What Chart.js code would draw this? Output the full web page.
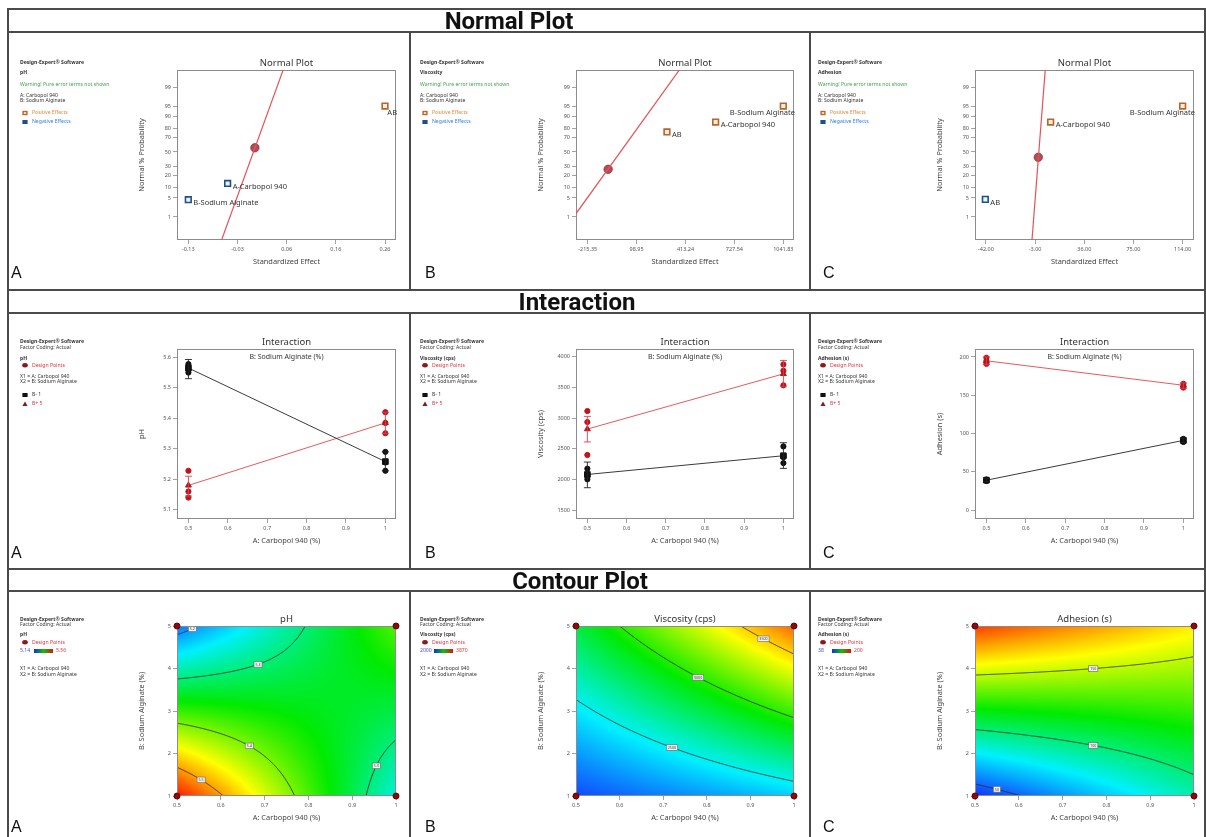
<!DOCTYPE html>
<html>
<head>
<meta charset="utf-8">
<script src="https://cdn.jsdelivr.net/npm/chart.js@4.4.0/dist/chart.umd.min.js"></script>
<style>
  body { margin: 0; background: #fff; }
  #root { position: relative; width: 1206px; height: 837px; overflow: hidden; background: #fff; }
  .cell { position: absolute; }
  .rule { position: absolute; background: #4a4a4a; z-index: 2; }
  .band { position: absolute; z-index: 3; font: 700 24px Roboto, "DejaVu Sans", sans-serif; color: #111;
          transform: translate(-50%, -50%); line-height: 1; white-space: nowrap; }
</style>
</head>
<body>
<div id="root"></div>
<script>
// ---------- data ----------
const carbopolLevels = [0.5, 1];   // A: Carbopol 940 (%)
const alginateLevels = [1, 5];     // B: Sodium Alginate (%)

// normal plot of standardized effects
const effectTerms = ['A-Carbopol 940', 'B-Sodium Alginate', 'AB'];
const phEffects = [-0.052, -0.13, 0.26];
const phEffectProb = [13, 4.4, 95];
const viscEffects = [607, 1041.83, 294];
const viscEffectProb = [85.8, 95, 76.3];
const adhEffects = [9.3, 114, -42.5];
const adhEffectProb = [85.8, 95, 4.5];
const phErrorPoint = [0.002, 56];
const viscErrorPoint = [-84, 26.8];
const adhErrorPoint = [-0.5, 42.5];
const phNormalLine = [[-0.0668, 0.05], [0.0611, 99.9]];
const viscNormalLine = [[-292.5, 1.32], [393.5, 99.9]];
const adhNormalLine = [[-5.74, 0.05], [5.27, 99.9]];
const probTicks = [1, 5, 10, 20, 30, 50, 70, 80, 90, 95, 99];
const phEffectTicks = [-0.13, -0.0325, 0.065, 0.1625, 0.26];
const phEffectLabels = ['-0.13', '-0.03', '0.06', '0.16', '0.26'];
const viscEffectTicks = [-215.35, 98.95, 413.24, 727.54, 1041.83];
const viscEffectLabels = ['-215.35', '98.95', '413.24', '727.54', '1041.83'];
const adhEffectTicks = [-42, -3, 36, 75, 114];
const adhEffectLabels = ['-42.00', '-3.00', '36.00', '75.00', '114.00'];

// interaction (means at B- = 1 and B+ = 5, per carbopol level)
const phMeansLow = [5.565, 5.258];
const phMeansHigh = [5.18, 5.385];
const phDesignLow = [[5.578, 5.56, 5.55], [5.29, 5.255, 5.228]];
const phDesignHigh = [[5.228, 5.16, 5.14], [5.42, 5.385, 5.351]];
const phBarsLow = [[5.53, 5.593], [5.228, 5.29]];
const phBarsHigh = [[5.145, 5.21], [5.35, 5.42]];

const viscMeansLow = [2080, 2385];
const viscMeansHigh = [2820, 3720];
const viscDesignLow = [[2174, 2070, 2050, 2000], [2537, 2380, 2360, 2266]];
const viscDesignHigh = [[3114, 2935, 2398], [3874, 3771, 3533]];
const viscBarsLow = [[1864, 2282], [2179, 2597]];
const viscBarsHigh = [[2610, 3027], [3510, 3939]];

const adhMeansLow = [39, 91];
const adhMeansHigh = [195, 163];
const adhDesignLow = [[40, 38], [93, 90, 89]];
const adhDesignHigh = [[199, 195, 191], [165, 162, 160]];
const adhBarsLow = [[37, 41], [88, 94]];
const adhBarsHigh = [[190, 200], [159, 166]];

const carbopolTicks = [0.5, 0.6, 0.7, 0.8, 0.9, 1];
const alginateTicks = [1, 2, 3, 4, 5];
const phTicks = [5.1, 5.2, 5.3, 5.4, 5.5, 5.6];
const viscTicks = [1500, 2000, 2500, 3000, 3500, 4000];
const adhTicks = [0, 50, 100, 150, 200];

// contour plots
const phRange = [5.14, 5.56];
const viscRange = [2000, 3870];
const adhRange = [38, 200];
const phLevels = [5.2, 5.3, 5.4, 5.5];
const viscLevels = [2500, 3000, 3500];
const adhLevels = [50, 100, 150];
const phLabelAt = [[5.2, 0.535], [5.3, 0.685], [5.3, 0.955], [5.4, 0.665], [5.5, 0.555]];
const viscLabelAt = [[2500, 0.72], [3000, 0.78], [3500, 0.93]];
const adhLabelAt = [[50, 0.55], [100, 0.77], [150, 0.77]];

// ---------- layout ----------
const FONT = '"Noto Sans", "Open Sans", sans-serif';
const COLS = [[8, 410], [410, 810], [810, 1205]];
const ROWS = [[32, 290], [313, 569], [591, 837]];
const AREA_X = [[177, 396], [576, 794], [975, 1194]];
const AREA_Y = [[70, 240], [349, 519], [626, 796]];
const LETTER_X = [3, 15, 13];
const LETTER_Y = [246, 245, 241];
const root = document.getElementById('root');

function probit(p) {
  const a = [-39.69683028665376, 220.9460984245205, -275.9285104469687, 138.357751867269, -30.66479806614716, 2.506628277459239];
  const b = [-54.47609879822406, 161.5858368580409, -155.6989798598866, 66.80131188771972, -13.28068155288572];
  const c = [-0.007784894002430293, -0.3223964580411365, -2.400758277161838, -2.549732539343734, 4.374664141464968, 2.938163982698783];
  const d = [0.007784695709041462, 0.3224671290700398, 2.445134137142996, 3.754408661907416];
  const tail = q => (((((c[0] * q + c[1]) * q + c[2]) * q + c[3]) * q + c[4]) * q + c[5]) / ((((d[0] * q + d[1]) * q + d[2]) * q + d[3]) * q + 1);
  if (p < 0.02425) return tail(Math.sqrt(-2 * Math.log(p)));
  if (p > 1 - 0.02425) return -tail(Math.sqrt(-2 * Math.log(1 - p)));
  const q = p - 0.5, r = q * q;
  return (((((a[0] * r + a[1]) * r + a[2]) * r + a[3]) * r + a[4]) * r + a[5]) * q /
         (((((b[0] * r + b[1]) * r + b[2]) * r + b[3]) * r + b[4]) * r + 1);
}
const z = p => probit(p / 100);

function axis(o) {
  return {
    type: 'linear', min: o.min, max: o.max,
    afterBuildTicks: s => { s.ticks = o.ticks.map(v => ({ value: v })); },
    afterFit: s => { if (s.isHorizontal()) s.height = 26; else s.width = 40; },
    ticks: {
      autoSkip: false, maxRotation: 0, padding: 2, color: '#555',
      font: { size: 5.5, family: FONT },
      callback: (v, i) => o.labels ? o.labels[i] : String(o.ticks[i])
    },
    grid: { drawOnChartArea: false, tickLength: 4, color: '#8a8a8a', lineWidth: 0.8 },
    border: { display: false },
    title: { display: true, text: o.title, color: '#444', font: { size: 7.4, family: FONT }, padding: 0 }
  };
}

// colour map used by the contour surfaces
const cmap = [[0, [20, 40, 255]], [0.25, [0, 240, 255]], [0.5, [0, 235, 0]], [0.75, [255, 255, 0]], [1, [255, 30, 0]]];
function colorAt(t) {
  t = Math.max(0, Math.min(1, t));
  for (let i = 1; i < cmap.length; i++) {
    if (t <= cmap[i][0]) {
      const [t0, c0] = cmap[i - 1], [t1, c1] = cmap[i];
      const f = (t - t0) / (t1 - t0);
      return c0.map((v, k) => Math.round(v + (c1[k] - v) * f));
    }
  }
  return cmap[cmap.length - 1][1];
}

// 2FI model through the four factorial means
function surface(c, u, v) {
  return c[0] * (1 - u) * (1 - v) + c[1] * u * (1 - v) + c[2] * (1 - u) * v + c[3] * u * v;
}
function solveV(c, u, L) {
  const y0 = c[0] + (c[1] - c[0]) * u, y1 = c[2] + (c[3] - c[2]) * u;
  if (Math.abs(y1 - y0) < 1e-9) return null;
  return (L - y0) / (y1 - y0);
}

function drawSurface(chart, s) {
  const { ctx, chartArea: a, scales: { x, y } } = chart;
  const dpr = chart.currentDevicePixelRatio;
  const [A0, A1] = carbopolLevels, [B0, B1] = alginateLevels;
  const x0 = Math.round(a.left * dpr), y0 = Math.round(a.top * dpr);
  const w = Math.round(a.right * dpr) - x0, h = Math.round(a.bottom * dpr) - y0;
  const img = ctx.createImageData(w, h);
  for (let j = 0; j < h; j++) {
    const v = (y.getValueForPixel((y0 + j + 0.5) / dpr) - B0) / (B1 - B0);
    for (let i = 0; i < w; i++) {
      const u = (x.getValueForPixel((x0 + i + 0.5) / dpr) - A0) / (A1 - A0);
      const col = colorAt((surface(s.corners, u, v) - s.range[0]) / (s.range[1] - s.range[0]));
      const k = (j * w + i) * 4;
      img.data[k] = col[0]; img.data[k + 1] = col[1]; img.data[k + 2] = col[2]; img.data[k + 3] = 255;
    }
  }
  ctx.putImageData(img, x0, y0);

  ctx.save();
  ctx.beginPath(); ctx.rect(a.left, a.top, a.width, a.height); ctx.clip();
  ctx.strokeStyle = '#2a2a2a'; ctx.lineWidth = 0.9;
  for (const L of s.levels) {
    ctx.beginPath();
    let pen = false;
    for (let k = 0; k <= 500; k++) {
      const u = k / 500, v = solveV(s.corners, u, L);
      if (v === null || v < -0.5 || v > 1.5) { pen = false; continue; }
      const px = x.getPixelForValue(A0 + u * (A1 - A0)), py = y.getPixelForValue(B0 + v * (B1 - B0));
      if (pen) ctx.lineTo(px, py); else ctx.moveTo(px, py);
      pen = true;
    }
    ctx.stroke();
  }
  ctx.font = '3.6px ' + FONT;
  ctx.textAlign = 'center'; ctx.textBaseline = 'middle';
  for (const [L, A] of s.labels) {
    const u = (A - A0) / (A1 - A0), v = solveV(s.corners, u, L);
    const px = x.getPixelForValue(A), py = y.getPixelForValue(B0 + v * (B1 - B0));
    const t = String(L), tw = ctx.measureText(t).width + 3;
    ctx.fillStyle = '#f4f4f4'; ctx.fillRect(px - tw / 2, py - 2.8, tw, 5.6);
    ctx.strokeStyle = '#666'; ctx.lineWidth = 0.6; ctx.strokeRect(px - tw / 2, py - 2.8, tw, 5.6);
    ctx.fillStyle = '#333'; ctx.fillText(t, px, py + 0.2);
  }
  ctx.restore();
}

function drawMark(ctx, kind, x, y, color) {
  ctx.fillStyle = color; ctx.strokeStyle = color;
  if (kind === 'sq') ctx.fillRect(x - 2.6, y - 2, 5.2, 4);
  if (kind === 'osq') { ctx.fillRect(x - 2.6, y - 2.2, 5.2, 4.4); ctx.fillStyle = '#f3e2cf'; ctx.fillRect(x - 1.2, y - 0.9, 2.4, 1.8); }
  if (kind === 'dot') { ctx.beginPath(); ctx.ellipse(x, y, 2.8, 2.2, 0, 0, Math.PI * 2); ctx.fill(); }
  if (kind === 'tri') { ctx.beginPath(); ctx.moveTo(x, y - 2.4); ctx.lineTo(x + 2.6, y + 2); ctx.lineTo(x - 2.6, y + 2); ctx.closePath(); ctx.fill(); }
}

function drawSidebar(ctx, x0, items) {
  ctx.save();
  ctx.textBaseline = 'middle'; ctx.textAlign = 'left';
  for (const it of items) {
    ctx.font = (it.bold ? 'bold ' : '') + '5.1px ' + FONT;
    let tx = x0;
    if (it.mark) { drawMark(ctx, it.mark, x0 + 5, it.y, it.markColor); tx = x0 + 12; }
    if (it.bar) {
      ctx.fillStyle = '#4a4ae0'; ctx.fillText(String(it.bar[0]), x0, it.y);
      const g = ctx.createLinearGradient(x0 + 14, 0, x0 + 33, 0);
      g.addColorStop(0, '#1030d0'); g.addColorStop(0.5, '#10c010'); g.addColorStop(1, '#e01010');
      ctx.fillStyle = g; ctx.fillRect(x0 + 14, it.y - 2, 19, 4);
      ctx.fillStyle = '#e03a3a'; ctx.fillText(String(it.bar[1]), x0 + 36, it.y);
      continue;
    }
    ctx.fillStyle = it.color || '#333';
    ctx.fillText(it.text, tx, it.y);
  }
  ctx.restore();
}

function makeDecor(cfg) {
  return {
    id: 'decor',
    beforeDatasetsDraw(chart) {
      const { ctx, chartArea: a } = chart;
      if (cfg.surface) drawSurface(chart, cfg.surface);
      ctx.save();
      ctx.strokeStyle = '#8c8c8c'; ctx.lineWidth = 1;
      ctx.strokeRect(a.left + 0.5, a.top + 0.5, a.width - 1, a.height - 1);
      ctx.restore();
    },
    afterDatasetsDraw(chart) {
      const { ctx, chartArea: a, scales: { x, y } } = chart;
      ctx.save();
      if (cfg.bars) {
        for (const b of cfg.bars) {
          ctx.strokeStyle = b.color; ctx.lineWidth = 0.9;
          b.ranges.forEach((r, i) => {
            const px = x.getPixelForValue(carbopolLevels[i]);
            const lo = y.getPixelForValue(r[0]), hi = y.getPixelForValue(r[1]);
            ctx.beginPath();
            ctx.moveTo(px, lo); ctx.lineTo(px, hi);
            ctx.moveTo(px - 3.5, lo); ctx.lineTo(px + 3.5, lo);
            ctx.moveTo(px - 3.5, hi); ctx.lineTo(px + 3.5, hi);
            ctx.stroke();
          });
        }
      }
      if (cfg.pointLabels) {
        ctx.font = '7.5px ' + FONT; ctx.fillStyle = '#333'; ctx.textBaseline = 'middle'; ctx.textAlign = 'left';
        chart.getDatasetMeta(1).data.forEach((pt, i) => {
          const t = cfg.pointLabels[i], w = ctx.measureText(t).width;
          if (pt.x + 5 + w > a.right) ctx.fillText(t, a.right - w + 1, pt.y + 7);
          else ctx.fillText(t, pt.x + 5, pt.y + 3);
        });
      }
      ctx.fillStyle = '#333'; ctx.textAlign = 'center'; ctx.textBaseline = 'middle';
      ctx.font = '9.5px ' + FONT;
      ctx.fillText(cfg.title, (a.left + a.right) / 2, a.top - 6.5);
      if (cfg.caption) {
        ctx.font = '7px ' + FONT;
        ctx.fillText(cfg.caption, (a.left + a.right) / 2, a.top + 7.5);
      }
      ctx.restore();
      drawSidebar(ctx, cfg.sidebarX, cfg.sidebar);
      ctx.save();
      ctx.fillStyle = '#111'; ctx.font = '16px "Liberation Sans", Arial, sans-serif';
      ctx.textAlign = 'left'; ctx.textBaseline = 'alphabetic';
      ctx.fillText(cfg.letter, LETTER_X[cfg.col], LETTER_Y[cfg.row]);
      ctx.restore();
    }
  };
}

function makeChart(row, col, datasets, xAxis, yAxis, cfg) {
  const [cl, cr] = COLS[col], [ct, cb] = ROWS[row];
  const [al, ar] = AREA_X[col], [at, ab] = AREA_Y[row];
  const box = document.createElement('div');
  box.className = 'cell';
  Object.assign(box.style, { left: cl + 'px', top: ct + 'px', width: (cr - cl) + 'px', height: (cb - ct) + 'px' });
  const cv = document.createElement('canvas');
  box.appendChild(cv);
  root.appendChild(box);
  cfg.row = row; cfg.col = col; cfg.letter = 'ABC'[col];
  cfg.sidebarX = [12, 10, 8][col];
  return new Chart(cv, {
    type: 'scatter',
    data: { datasets },
    options: {
      responsive: true, maintainAspectRatio: false, animation: false,
      layout: { padding: { left: al - cl - 40, right: cr - ar, top: at - ct, bottom: cb - ab - 26 } },
      plugins: { legend: { display: false }, tooltip: { enabled: false } },
      scales: { x: axis(xAxis), y: axis(yAxis) }
    },
    plugins: [makeDecor(cfg)]
  });
}

// ---------- row 1: normal plots ----------
const normalPanels = [
  { name: 'pH', eff: phEffects, prob: phEffectProb, err: phErrorPoint, line: phNormalLine,
    ticks: phEffectTicks, labels: phEffectLabels, min: -0.1524, max: 0.2818 },
  { name: 'Viscosity', eff: viscEffects, prob: viscEffectProb, err: viscErrorPoint, line: viscNormalLine,
    ticks: viscEffectTicks, labels: viscEffectLabels, min: -290.6, max: 1110.6 },
  { name: 'Adhesion', eff: adhEffects, prob: adhEffectProb, err: adhErrorPoint, line: adhNormalLine,
    ticks: adhEffectTicks, labels: adhEffectLabels, min: -50.7, max: 123 }
];
normalPanels.forEach((p, col) => {
  const positive = p.eff.map(e => e >= 0);
  makeChart(0, col, [
    { data: p.line.map(([e, pr]) => ({ x: e, y: z(pr) })), showLine: true, borderColor: '#e4525a',
      borderWidth: 1.2, pointRadius: 0 },
    { data: p.eff.map((e, i) => ({ x: e, y: z(p.prob[i]) })), pointStyle: 'rect', pointRadius: 4,
      pointBackgroundColor: positive.map(f => f ? '#fbeee2' : '#eef3fb'),
      pointBorderColor: positive.map(f => f ? '#b8642a' : '#1f4f8f'), pointBorderWidth: 1.6 },
    { data: [{ x: p.err[0], y: z(p.err[1]) }], pointRadius: 4.2, pointBackgroundColor: '#b34c55',
      pointBorderColor: '#8c343c', pointBorderWidth: 0.8 }
  ],
  { min: p.min, max: p.max, ticks: p.ticks, labels: p.labels, title: 'Standardized Effect' },
  { min: -3.15, max: 2.935, ticks: probTicks.map(z), labels: probTicks.map(String), title: 'Normal % Probability' },
  {
    title: 'Normal Plot', pointLabels: effectTerms,
    sidebar: [
      { text: 'Design-Expert® Software', y: 31, bold: true },
      { text: p.name, y: 41, bold: true },
      { text: 'Warning! Pure error terms not shown', y: 53, color: '#3aa84a' },
      { text: 'A: Carbopol 940', y: 63.7 },
      { text: 'B: Sodium Alginate', y: 69 },
      { mark: 'osq', markColor: '#b8642a', text: 'Positive Effects', color: '#e0893a', y: 81 },
      { mark: 'sq', markColor: '#1f4f8f', text: 'Negative Effects', color: '#2f80d8', y: 90 }
    ]
  });
});

// ---------- row 2: interaction plots ----------
const interactionPanels = [
  { name: 'pH', lo: phMeansLow, hi: phMeansHigh, dLo: phDesignLow, dHi: phDesignHigh,
    bLo: phBarsLow, bHi: phBarsHigh, ticks: phTicks, min: 5.0697, max: 5.6274, range: phRange,
    levels: phLevels, labelAt: phLabelAt },
  { name: 'Viscosity (cps)', lo: viscMeansLow, hi: viscMeansHigh, dLo: viscDesignLow, dHi: viscDesignHigh,
    bLo: viscBarsLow, bHi: viscBarsHigh, ticks: viscTicks, min: 1354, max: 4125, range: viscRange,
    levels: viscLevels, labelAt: viscLabelAt },
  { name: 'Adhesion (s)', lo: adhMeansLow, hi: adhMeansHigh, dLo: adhDesignLow, dHi: adhDesignHigh,
    bLo: adhBarsLow, bHi: adhBarsHigh, ticks: adhTicks, min: -11.7, max: 210.4, range: adhRange,
    levels: adhLevels, labelAt: adhLabelAt }
];
const flatten = groups => groups.flatMap((g, i) => g.map(v => ({ x: carbopolLevels[i], y: v })));

interactionPanels.forEach((p, col) => {
  makeChart(1, col, [
    { data: p.lo.map((v, i) => ({ x: carbopolLevels[i], y: v })), showLine: true, borderColor: '#3a3a3a',
      borderWidth: 1, pointStyle: 'rect', pointRadius: 4, pointBackgroundColor: '#111', pointBorderColor: '#111' },
    { data: p.hi.map((v, i) => ({ x: carbopolLevels[i], y: v })), showLine: true, borderColor: '#e55a5f',
      borderWidth: 1, pointStyle: 'triangle', pointRadius: 3.4, pointBackgroundColor: '#b5141c', pointBorderColor: '#b5141c' },
    { data: flatten(p.dLo), pointRadius: 2.6, pointBackgroundColor: '#111', pointBorderColor: '#111' },
    { data: flatten(p.dHi), pointRadius: 2.6, pointBackgroundColor: '#c0141c', pointBorderColor: '#c0141c' }
  ],
  { min: 0.471, max: 1.027, ticks: carbopolTicks, title: 'A: Carbopol 940 (%)' },
  { min: p.min, max: p.max, ticks: p.ticks, title: p.name },
  {
    title: 'Interaction', caption: 'B: Sodium Alginate (%)',
    bars: [{ ranges: p.bLo, color: '#222' }, { ranges: p.bHi, color: '#d8414a' }],
    sidebar: [
      { text: 'Design-Expert® Software', y: 29, bold: true },
      { text: 'Factor Coding: Actual', y: 34.3 },
      { text: p.name, y: 45.3, bold: true },
      { mark: 'dot', markColor: '#8b1a1a', text: 'Design Points', color: '#d9363e', y: 52.3 },
      { text: 'X1 = A: Carbopol 940', y: 63.3 },
      { text: 'X2 = B: Sodium Alginate', y: 68.7 },
      { mark: 'sq', markColor: '#111', text: 'B- 1', y: 82 },
      { mark: 'tri', markColor: '#8b1a1a', text: 'B+ 5', color: '#d9363e', y: 91 }
    ]
  });
});

// ---------- row 3: contour plots ----------
interactionPanels.forEach((p, col) => {
  const corners = [p.lo[0], p.lo[1], p.hi[0], p.hi[1]];
  const cornerPts = [];
  alginateLevels.forEach(b => carbopolLevels.forEach(a => cornerPts.push({ x: a, y: b })));
  makeChart(2, col, [
    { data: cornerPts, pointRadius: 3, pointBackgroundColor: '#8b0a0a', pointBorderColor: '#6a0000', clip: false }
  ],
  { min: 0.5, max: 1, ticks: carbopolTicks, title: 'A: Carbopol 940 (%)' },
  { min: 1, max: 5, ticks: alginateTicks, title: 'B: Sodium Alginate (%)' },
  {
    title: p.name,
    surface: { corners, range: p.range, levels: p.levels, labels: p.labelAt },
    sidebar: [
      { text: 'Design-Expert® Software', y: 28.3, bold: true },
      { text: 'Factor Coding: Actual', y: 34 },
      { text: p.name, y: 44, bold: true },
      { mark: 'dot', markColor: '#8b1a1a', text: 'Design Points', color: '#d9363e', y: 51.3 },
      { bar: p.range, y: 60 },
      { text: 'X1 = A: Carbopol 940', y: 78 },
      { text: 'X2 = B: Sodium Alginate', y: 83.6 }
    ]
  });
});

// ---------- frame and section headers ----------
function rule(x, y, w, h) {
  const d = document.createElement('div');
  d.className = 'rule';
  Object.assign(d.style, { left: x + 'px', top: y + 'px', width: w + 'px', height: h + 'px' });
  root.appendChild(d);
}
[9, 32, 290, 313, 569, 591].forEach(y => rule(7, y - 1, 1199, 2));
rule(7, 8, 2, 829);
rule(1204, 8, 2, 829);
ROWS.forEach(([t, b]) => { rule(409, t, 2, b - t); rule(809, t, 2, b - t); });

function band(text, x, y) {
  const d = document.createElement('div');
  d.className = 'band';
  d.textContent = text;
  Object.assign(d.style, { left: x + 'px', top: y + 'px' });
  root.appendChild(d);
}
band('Normal Plot', 509, 21);
band('Interaction', 577, 302);
band('Contour Plot', 580, 581);
</script>
</body>
</html>
